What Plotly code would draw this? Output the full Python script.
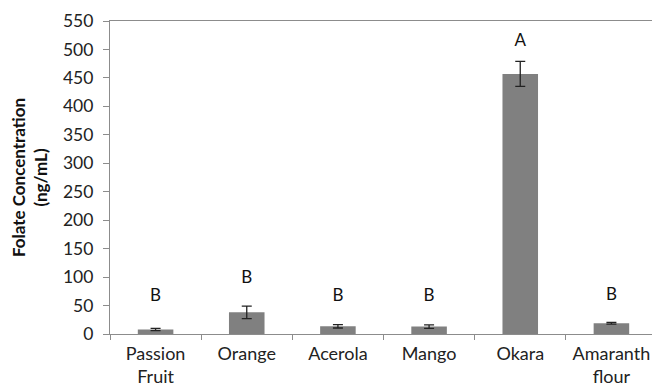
import plotly.graph_objects as go

categories = ["Passion<br>Fruit", "Orange", "Acerola", "Mango", "Okara", "Amaranth<br>flour"]
values = [8, 38, 13.5, 13, 457, 19]
errors = [2, 11, 3, 3, 22, 1.5]
letters = ["B", "B", "B", "B", "A", "B"]
letter_y = [65, 97, 65, 65, 514, 67]

font = "Lato, Open Sans, sans-serif"

fig = go.Figure()
fig.add_trace(go.Bar(
    x=categories, y=values,
    marker=dict(color="#808080", line=dict(width=0)),
    width=0.39,
    error_y=dict(type="data", array=errors, color="#222222", thickness=1.3, width=5),
    showlegend=False,
))
fig.add_trace(go.Scatter(
    x=categories, y=letter_y, mode="text", text=letters,
    textfont=dict(family=font, size=17, color="#111111"),
    showlegend=False, hoverinfo="skip",
))

fig.update_layout(
    width=652, height=379,
    margin=dict(l=102, r=3, t=13, b=53),
    plot_bgcolor="white", paper_bgcolor="white",
    font=dict(family=font, size=18, color="#222222"),
    bargap=0.6,
)
fig.update_xaxes(
    showline=True, linecolor="#8c8c8c", linewidth=1.2, mirror=True,
    ticks="outside", tickson="boundaries", ticklen=5, tickcolor="#8c8c8c",
    tickfont=dict(size=18, family=font, color="#222222"),
    ticklabelstandoff=3,
    showgrid=False, automargin=False,
)
fig.update_yaxes(
    range=[0, 550], tickvals=list(range(0, 551, 50)),
    showline=True, linecolor="#8c8c8c", linewidth=1.2, mirror=True,
    ticks="outside", ticklen=6, tickcolor="#8c8c8c",
    tickfont=dict(size=17.5, family=font, color="#222222"),
    ticklabelstandoff=6,
    showgrid=False, zeroline=False, automargin=False,
    title=dict(text="<b>Folate Concentration<br>(ng/mL)</b>", font=dict(size=17, family=font, color="#111111"), standoff=10),
)
fig.write_html("out.html")
